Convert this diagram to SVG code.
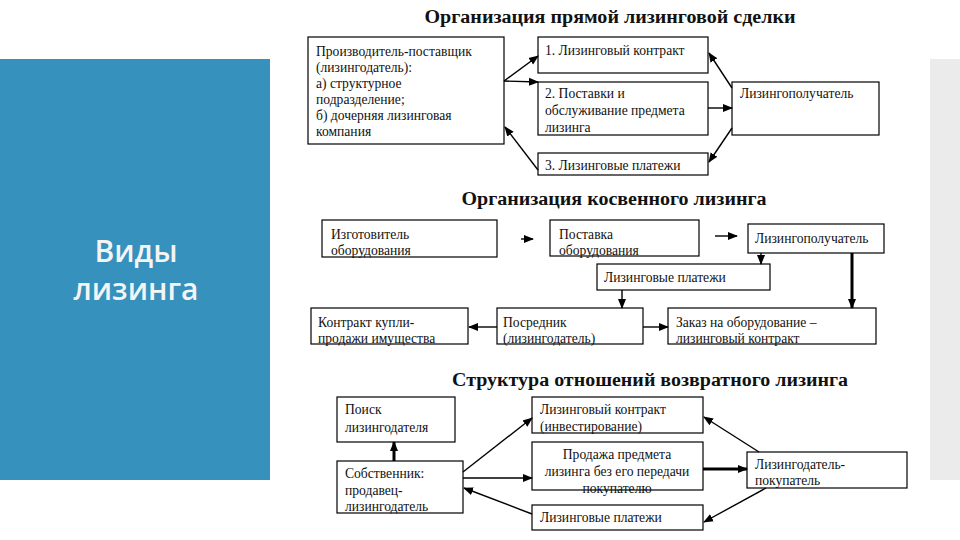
<svg xmlns="http://www.w3.org/2000/svg" width="960" height="540" viewBox="0 0 960 540">
<style>
.box{fill:#fff;stroke:#000;stroke-width:1.2}
.t{font-family:"Liberation Serif","Times New Roman",serif;font-size:13.6px;fill:#111}
.h{font-family:"Liberation Serif","Times New Roman",serif;font-size:18px;font-weight:bold;fill:#111}
.c line{stroke:#000;stroke-width:1.4;marker-end:url(#ah)}
.c line.k{stroke-width:3}
</style>
<defs>
<marker id="ah" markerUnits="userSpaceOnUse" markerWidth="10" markerHeight="10" viewBox="0 0 10 10" refX="9" refY="5" orient="auto">
<path d="M0,1 L10,5 L0,9 Z" fill="#000"/>
</marker>
</defs>
<rect width="960" height="540" fill="#fff"/>
<rect id="side-panel" x="0" y="59" width="270" height="421" fill="#3691bd"/>
<rect id="right-panel" x="930" y="59" width="30" height="421" fill="#ebebeb"/>
<g id="side-title" font-family="'Open Sans','Noto Sans',sans-serif" font-size="30" font-weight="600" fill="#f4f4f4" text-anchor="middle">
<text x="136" y="262">Виды</text>
<text x="136" y="300">лизинга</text>
</g>

<!-- Titles -->
<text class="h" x="610" y="23" text-anchor="middle" textLength="371" lengthAdjust="spacingAndGlyphs">Организация прямой лизинговой сделки</text>
<text class="h" x="614" y="205" text-anchor="middle" textLength="305" lengthAdjust="spacingAndGlyphs">Организация косвенного лизинга</text>
<text class="h" x="650" y="386" text-anchor="middle" textLength="396" lengthAdjust="spacingAndGlyphs">Структура отношений возвратного лизинга</text>

<!-- Direct leasing -->
<g id="n-producer"><rect class="box" x="308" y="37" width="196" height="107"/>
<text class="t" x="316" y="56">Производитель-поставщик</text>
<text class="t" x="316" y="72">(лизингодатель):</text>
<text class="t" x="316" y="88">а) структурное</text>
<text class="t" x="316" y="104">подразделение;</text>
<text class="t" x="316" y="120">б) дочерняя лизинговая</text>
<text class="t" x="316" y="136">компания</text></g>
<g id="n-contract1"><rect class="box" x="538" y="37" width="170" height="36"/>
<text class="t" x="545" y="55">1. Лизинговый контракт</text></g>
<g id="n-supply"><rect class="box" x="538" y="82" width="170" height="53"/>
<text class="t" x="545" y="98">2. Поставки и</text>
<text class="t" x="545" y="115">обслуживание предмета</text>
<text class="t" x="545" y="132">лизинга</text></g>
<g id="n-payments1"><rect class="box" x="538" y="153" width="170" height="22"/>
<text class="t" x="545" y="170">3. Лизинговые платежи</text></g>
<g id="n-lessee1"><rect class="box" x="732" y="82" width="147" height="53"/>
<text class="t" x="740" y="98">Лизингополучатель</text></g>

<!-- Indirect leasing -->
<g id="n-maker"><rect class="box" x="322" y="220" width="175" height="37"/>
<text class="t" x="331" y="239">Изготовитель</text>
<text class="t" x="331" y="255">оборудования</text></g>
<g id="n-delivery"><rect class="box" x="550" y="220" width="149" height="36"/>
<text class="t" x="559" y="239">Поставка</text>
<text class="t" x="559" y="255">оборудования</text></g>
<g id="n-lessee2"><rect class="box" x="748" y="224" width="136" height="29"/>
<text class="t" x="755" y="243">Лизингополучатель</text></g>
<g id="n-payments2"><rect class="box" x="597" y="264" width="173" height="26"/>
<text class="t" x="604" y="282">Лизинговые платежи</text></g>
<g id="n-sale"><rect class="box" x="311" y="308" width="157" height="36"/>
<text class="t" x="318" y="327">Контракт купли-</text>
<text class="t" x="318" y="343">продажи имущества</text></g>
<g id="n-broker"><rect class="box" x="497" y="308" width="146" height="36"/>
<text class="t" x="503" y="327">Посредник</text>
<text class="t" x="503" y="343">(лизингодатель)</text></g>
<g id="n-order"><rect class="box" x="668" y="308" width="208" height="36"/>
<text class="t" x="676" y="327">Заказ на оборудование –</text>
<text class="t" x="676" y="343">лизинговый контракт</text></g>

<!-- Leaseback -->
<g id="n-search"><rect class="box" x="337" y="397" width="118" height="45"/>
<text class="t" x="345" y="414">Поиск</text>
<text class="t" x="345" y="432">лизингодателя</text></g>
<g id="n-owner"><rect class="box" x="337" y="461" width="126" height="52"/>
<text class="t" x="345" y="478">Собственник:</text>
<text class="t" x="345" y="495">продавец-</text>
<text class="t" x="345" y="511">лизингодатель</text></g>
<g id="n-contract3"><rect class="box" x="532" y="397" width="171" height="36"/>
<text class="t" x="540" y="414">Лизинговый контракт</text>
<text class="t" x="540" y="431">(инвестирование)</text></g>
<g id="n-selling"><rect class="box" x="532" y="442" width="171" height="48"/>
<text class="t" x="617" y="459" text-anchor="middle">Продажа предмета</text>
<text class="t" x="617" y="476" text-anchor="middle">лизинга без его передачи</text>
<text class="t" x="617" y="493" text-anchor="middle">покупателю</text></g>
<g id="n-payments3"><rect class="box" x="532" y="505" width="171" height="25"/>
<text class="t" x="540" y="522">Лизинговые платежи</text></g>
<g id="n-buyer"><rect class="box" x="747" y="452" width="160" height="36"/>
<text class="t" x="755" y="469">Лизингодатель-</text>
<text class="t" x="755" y="485">покупатель</text></g>

<g id="connectors" class="c">
<line x1="504" y1="81" x2="538" y2="56"/>
<line x1="504" y1="81" x2="538" y2="82"/>
<line x1="538" y1="170" x2="505" y2="127"/>
<line x1="732" y1="88" x2="709" y2="53"/>
<line x1="708" y1="108" x2="732" y2="108"/>
<line x1="732" y1="128" x2="709" y2="162"/>

<line x1="521" y1="239" x2="533" y2="239"/>
<line x1="715" y1="236" x2="737" y2="236"/>
<line x1="761" y1="253" x2="761" y2="264"/>
<line class="k" x1="852" y1="253" x2="852" y2="308"/>
<line x1="622" y1="290" x2="622" y2="308"/>
<line x1="497" y1="327" x2="469" y2="327"/>
<line x1="643" y1="327" x2="668" y2="327"/>

<line class="k" x1="394" y1="461" x2="394" y2="442"/>
<line x1="463" y1="472" x2="532" y2="418"/>
<line x1="463" y1="478" x2="532" y2="478"/>
<line x1="532" y1="514" x2="464" y2="488"/>
<line class="k" x1="703" y1="469" x2="747" y2="469"/>
<line x1="759" y1="452" x2="704" y2="417"/>
<line x1="766" y1="488" x2="704" y2="522"/>
</g>
</svg>
